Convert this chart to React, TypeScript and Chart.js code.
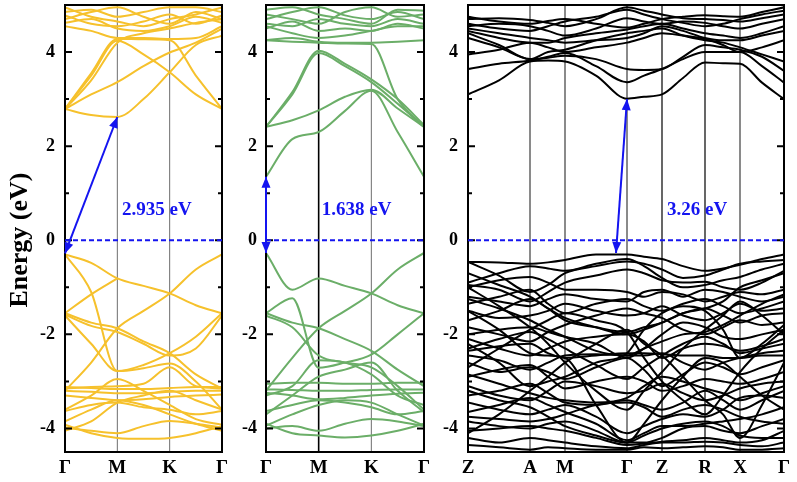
import React, { useEffect, useRef } from 'react';
import { Chart, registerables } from 'chart.js';
Chart.register(...registerables);

const FONT = '"Liberation Serif", "Times New Roman", serif';

// ---------- axes / k-path ----------
const hexKLabels = ['Γ', 'M', 'K', 'Γ'];
const hexKPos = [0, 1, 2, 3];
const hexX = [0, 0.5, 1, 1.5, 2, 2.5, 3];
const tetKLabels = ['Z', 'A', 'M', 'Γ', 'Z', 'R', 'X', 'Γ'];
const tetKPos = [0, 62, 97, 159, 194, 237, 272, 316];
const tetX = [0, 31, 62, 80, 97, 128, 159, 176, 194, 215, 237, 255, 272, 294, 316];
const yMajor = [-4, -2, 0, 2, 4];
const yMinor = [-3, -1, 1, 3];

// ---------- panel 1 (yellow) bands: values at hexX ----------
const p1Cond: (number | null)[][] = [
  [2.79, 2.66, 2.62, 3.0, 3.57, 4.15, 4.35],
  [2.79, 3.1, 3.36, 3.7, 3.99, 4.2, 4.5],
  [2.79, 3.5, 4.24, 3.95, 3.57, 3.1, 2.79],
  [2.79, 3.55, 4.28, 4.27, 4.25, 3.5, 2.79],
  [2.79, 3.4, 4.2, 4.4, 4.5, 4.62, 4.7],
  [4.55, 4.45, 4.3, 4.3, 4.28, 4.3, 4.55],
  [4.62, 4.7, 4.5, 4.45, 4.55, 4.75, 4.62],
  [4.7, 4.85, 4.95, 4.75, 4.6, 4.85, 4.7],
  [4.78, 4.6, 4.55, 4.65, 4.8, 4.6, 4.78],
  [4.85, 4.9, 4.75, 4.85, 4.95, 4.95, 4.85],
  [4.95, 4.75, 4.65, 4.55, 4.7, 4.8, 4.95],
];
const p1Val: (number | null)[][] = [
  [-0.3, -0.48, -0.81, -0.97, -1.13, -1.38, -1.55],
  [-1.55, -1.15, -0.81, null, null, null, null],
  [-0.3, -1.1, -2.78, -2.65, -2.4, -2.05, -1.55],
  [-3.2, -2.6, -1.87, -1.5, -1.13, -0.62, -0.3],
  [-1.55, -1.75, -1.87, -2.15, -2.4, -2.85, -3.15],
  [-1.6, -2.2, -2.78, -2.72, -2.62, -3.0, -3.6],
  [-1.58, -1.82, -1.95, -2.2, -2.45, -2.3, -1.6],
  [-3.15, -3.12, -3.1, -3.05, -2.7, -3.1, -3.15],
  [-3.12, -3.14, -3.16, -3.16, -3.14, -3.12, -3.12],
  [-3.2, -3.22, -3.25, -3.25, -3.22, -3.2, -3.2],
  [-3.3, -3.35, -3.4, -3.38, -3.33, -3.3, -3.28],
  [-3.63, -3.5, -3.45, -3.55, -3.6, -3.7, -3.63],
  [-3.85, -3.6, -3.4, -3.5, -3.7, -3.9, -4.05],
  [-3.92, -4.1, -4.2, -4.22, -4.2, -4.1, -3.95],
  [-3.98, -4.05, -4.1, -3.95, -3.84, -3.9, -3.98],
  [-4.05, -3.85, -3.45, -3.3, -3.2, -3.4, -3.6],
  [-3.6, -3.3, -2.95, -3.2, -3.5, -3.8, -3.92],
];

// ---------- panel 2 (green) bands ----------
const p2Cond: (number | null)[][] = [
  [1.35, 2.15, 2.3, 2.75, 3.18, 2.3, 1.35],
  [2.41, 2.55, 2.76, 3.05, 3.2, 2.8, 2.41],
  [2.41, 3.1, 3.98, 3.7, 3.36, 2.9, 2.41],
  [2.41, 3.15, 4.03, 3.75, 3.42, 3.0, 2.45],
  [4.25, 4.22, 4.2, 4.18, 4.17, 3.0, 2.41],
  [4.25, 4.3, 4.22, 4.2, 4.2, 4.22, 4.25],
  [4.5, 4.65, 4.45, 4.5, 4.45, 4.6, 4.5],
  [4.6, 4.55, 4.7, 4.6, 4.55, 4.7, 4.6],
  [4.7, 4.85, 4.95, 4.78, 4.7, 4.85, 4.7],
  [4.8, 4.7, 4.6, 4.85, 4.95, 4.75, 4.8],
  [4.9, 4.95, 4.8, 4.7, 4.6, 4.9, 4.88],
  [4.55, 4.4, 4.3, 4.35, 4.45, 4.55, 4.55],
];
const p2Val: (number | null)[][] = [
  [-0.27, -1.05, -0.81, -0.97, -1.13, -1.38, -1.55],
  [-1.55, -1.23, -2.71, -2.6, -2.43, -2.0, -1.55],
  [-3.2, -2.5, -1.87, -1.5, -1.13, -0.62, -0.27],
  [-1.55, -1.75, -1.87, -2.1, -2.35, -2.75, -3.1],
  [-1.6, -1.85, -2.45, -2.6, -2.7, -3.1, -3.6],
  [-3.05, -3.03, -3.03, -3.05, -3.05, -3.03, -3.03],
  [-3.17, -3.18, -3.2, -3.2, -3.18, -3.17, -3.17],
  [-3.24, -3.3, -3.38, -3.35, -3.3, -3.26, -3.24],
  [-3.63, -3.5, -3.4, -3.45, -3.55, -3.7, -3.63],
  [-3.94, -3.7, -3.5, -3.4, -3.45, -3.7, -3.94],
  [-3.9, -4.1, -4.15, -4.19, -4.15, -4.05, -3.9],
  [-4.0, -3.95, -4.05, -3.9, -3.8, -3.85, -3.95],
  [-3.7, -3.3, -2.9, -2.75, -2.6, -3.2, -3.65],
  [-3.3, -3.1, -2.55, -2.6, -2.85, -3.3, -3.5],
];

// ---------- panel 3 (black) bands: values at tetX ----------
const p3Cond: (number | null)[][] = [
  [3.1, 3.4, 3.8, 3.82, 3.8, 3.5, 3.01, 3.05, 3.1, 3.45, 3.78, 3.76, 3.75, 3.35, 3.0],
  [3.64, 3.75, 3.82, 3.9, 3.98, 3.7, 3.36, 3.5, 3.64, 3.85, 4.0, 4.0, 4.0, 3.7, 3.35],
  [4.4, 4.15, 3.85, 3.88, 3.92, 3.85, 3.64, 3.62, 3.64, 3.9, 4.15, 4.1, 4.05, 3.9, 3.6],
  [4.3, 4.1, 3.85, 4.0, 4.05, 4.25, 4.4, 4.45, 4.5, 4.35, 4.25, 4.2, 4.1, 3.95, 3.8],
  [4.45, 4.3, 4.2, 4.2, 4.3, 4.4, 4.48, 4.55, 4.6, 4.5, 4.4, 4.35, 4.3, 4.4, 4.55],
  [4.55, 4.6, 4.55, 4.45, 4.35, 4.5, 4.72, 4.65, 4.6, 4.65, 4.62, 4.55, 4.5, 4.6, 4.7],
  [4.6, 4.5, 4.45, 4.55, 4.65, 4.75, 4.9, 4.8, 4.7, 4.62, 4.55, 4.6, 4.7, 4.8, 4.88],
  [4.7, 4.72, 4.68, 4.62, 4.55, 4.7, 4.95, 4.88, 4.8, 4.72, 4.7, 4.68, 4.65, 4.72, 4.8],
  [4.75, 4.65, 4.6, 4.66, 4.7, 4.6, 4.52, 4.6, 4.7, 4.75, 4.78, 4.76, 4.75, 4.85, 4.95],
  [4.5, 4.4, 4.3, 4.25, 4.2, 4.25, 4.3, 4.4, 4.55, 4.45, 4.3, 4.25, 4.25, 4.35, 4.45],
  [3.95, 4.05, 4.2, 4.1, 4.0, 4.1, 4.2, 4.3, 4.4, 4.35, 4.28, 4.15, 4.0, 4.1, 4.25],
];
const p3Val: (number | null)[][] = [
  [-0.46, -0.47, -0.5, -0.47, -0.42, -0.3, -0.3, -0.35, -0.4, -0.55, -0.65, -0.6, -0.52, -0.4, -0.3],
  [-0.46, -0.75, -1.1, -0.95, -0.7, -0.55, -0.45, -0.5, -0.62, -0.8, -0.75, -0.62, -0.5, -0.45, -0.42],
  [-0.9, -0.7, -0.55, -0.6, -0.65, -0.5, -0.4, -0.55, -0.8, -1.0, -0.95, -0.85, -0.78, -0.62, -0.5],
  [-0.95, -1.05, -1.3, -1.1, -0.9, -0.75, -0.62, -0.7, -0.85, -0.9, -0.88, -1.0, -1.05, -0.9, -0.65],
  [-1.0, -0.85, -0.78, -0.9, -1.05, -1.05, -1.1, -1.2, -1.1, -1.15, -1.3, -1.2, -1.1, -1.15, -1.05],
  [-1.2, -1.3, -1.4, -1.25, -1.15, -1.25, -1.3, -1.1, -1.05, -1.2, -1.05, -1.1, -1.2, -1.3, -1.2],
  [-1.35, -1.2, -1.05, -1.35, -1.55, -1.35, -1.25, -1.4, -1.5, -1.35, -1.25, -1.4, -1.55, -1.45, -1.3],
  [-1.5, -1.65, -1.6, -1.5, -1.35, -1.5, -1.6, -1.55, -1.4, -1.6, -1.7, -1.55, -1.35, -1.5, -1.45],
  [-1.7, -1.5, -1.25, -1.45, -1.65, -1.85, -2.0, -1.9, -1.75, -1.55, -1.45, -1.6, -1.75, -1.6, -1.55],
  [-1.85, -2.0, -2.15, -1.95, -1.8, -1.6, -1.45, -1.55, -1.65, -1.9, -2.0, -1.85, -1.7, -1.8, -1.75],
  [-2.0, -1.9, -1.85, -1.95, -2.05, -2.2, -2.5, -2.3, -2.0, -1.75, -1.85, -2.05, -2.1, -2.0, -1.9],
  [-2.1, -2.3, -2.45, -2.3, -2.15, -2.05, -2.0, -2.15, -2.5, -2.3, -2.2, -2.25, -2.35, -2.25, -2.1],
  [-2.35, -2.25, -2.2, -2.4, -2.5, -2.45, -2.4, -2.4, -2.42, -2.45, -2.45, -2.5, -2.5, -2.45, -2.45],
  [-2.45, -2.55, -2.75, -2.6, -2.45, -2.42, -2.45, -2.45, -2.4, -2.6, -2.75, -2.6, -2.5, -2.4, -2.35],
  [-2.6, -2.8, -2.7, -2.8, -2.95, -2.7, -2.5, -2.75, -3.1, -2.85, -2.6, -2.7, -2.85, -2.7, -2.55],
  [-2.9, -2.75, -2.65, -2.9, -3.15, -3.0, -2.9, -3.0, -3.2, -3.1, -2.95, -3.0, -3.05, -2.95, -2.8],
  [-3.1, -3.3, -3.4, -3.2, -3.0, -3.1, -3.25, -3.2, -3.05, -3.25, -3.4, -3.3, -3.15, -3.05, -3.0],
  [-3.3, -3.2, -3.05, -3.25, -3.45, -3.5, -3.4, -3.5, -3.6, -3.45, -3.2, -3.4, -3.6, -3.4, -3.2],
  [-3.45, -3.6, -3.7, -3.6, -3.5, -3.75, -4.1, -3.95, -3.8, -3.7, -3.75, -3.6, -3.35, -3.3, -3.35],
  [-3.65, -3.5, -3.35, -3.5, -3.65, -3.9, -4.25, -4.1, -3.95, -3.95, -3.9, -3.85, -3.8, -3.7, -3.55],
  [-3.85, -3.95, -4.0, -3.9, -3.85, -4.05, -4.3, -4.3, -4.2, -4.0, -3.95, -4.05, -4.1, -3.95, -3.8],
  [-4.05, -4.0, -3.95, -4.0, -4.05, -4.2, -4.35, -4.32, -4.28, -4.25, -4.2, -4.25, -4.3, -4.25, -4.05],
  [-4.2, -4.3, -4.2, -4.25, -4.3, -4.38, -4.42, -4.35, -4.3, -4.3, -4.28, -4.3, -4.35, -4.38, -4.3],
  [-4.35, -4.4, -4.45, -4.4, -4.42, -4.45, -4.45, -4.4, -4.42, -4.4, -4.38, -4.4, -4.45, -4.45, -4.42],
  [-2.3, -2.1, -1.95, -2.1, -2.3, -2.65, -2.95, -2.7, -2.45, -2.2, -2.05, -2.2, -2.4, -2.3, -2.2],
  [-0.7, -0.95, -1.2, -1.45, -1.7, -1.85, -1.95, -1.85, -1.75, -1.55, -1.45, -1.3, -1.0, -0.85, -0.7],
  [-1.25, -1.45, -1.7, -1.9, -2.05, -2.35, -2.45, -2.3, -2.15, -2.0, -1.95, -1.8, -1.6, -1.35, -1.15],
  [-2.85, -3.05, -3.25, -3.35, -3.4, -3.45, -3.35, -3.1, -2.9, -3.0, -3.15, -3.25, -3.4, -3.25, -3.1],
  [-3.2, -3.4, -3.55, -3.75, -3.95, -4.15, -4.3, -4.15, -4.0, -3.9, -3.85, -3.95, -4.15, -4.2, -4.2],
  [-3.75, -3.8, -3.85, -3.8, -3.7, -3.5, -3.45, -3.55, -3.75, -3.6, -3.5, -3.6, -3.75, -3.85, -3.9],
  [-1.5, -1.9, -2.4, -2.45, -2.5, -3.5, -4.3, -3.9, -3.4, -2.9, -2.5, -2.6, -2.9, -3.3, -3.6],
  [-2.2, -2.6, -3.1, -3.0, -2.9, -2.6, -2.4, -1.9, -1.55, -1.4, -1.5, -1.9, -2.5, -2.2, -1.8],
  [-4.1, -3.7, -3.2, -2.9, -2.6, -2.2, -1.9, -2.2, -2.45, -2.9, -3.4, -3.7, -4.2, -3.5, -2.6],
  [-1.0, -1.4, -1.85, -2.2, -2.6, -3.2, -3.6, -3.2, -2.8, -2.3, -1.9, -1.6, -1.3, -1.6, -2.0],
  [-2.7, -2.3, -1.9, -1.7, -1.55, -1.7, -1.95, -2.5, -3.0, -3.4, -3.7, -3.3, -2.8, -2.3, -1.9],
];

// ---------- gap annotations (data coords) ----------
const gapLabels = ['2.935 eV', '1.638 eV', '3.26 eV'];
const gapArrows = [
  [0, -0.28, 1, 2.62],
  [0, -0.27, 0, 1.35],
  [148, -0.27, 159, 3.0],
];
const gapLabelPos = [
  [1.09, 0.64],
  [1.06, 0.64],
  [199, 0.64],
];

const BLUE = '#1414F0';
const GRAY = '#8a8a8a';

type PanelCfg = {
  left: number;
  width: number;
  yWidth: number;
  padRight: number;
  tickPad: number;
  xs: number[];
  bands: (number | null)[][];
  color: string;
  kPos: number[];
  kLabels: string[];
  vlines: { c: string; w: number }[];
  idx: number;
  title: boolean;
};

const panels: PanelCfg[] = [
  {
    left: 0, width: 232, yWidth: 65, padRight: 10, tickPad: 10,
    xs: hexX, bands: [...p1Cond, ...p1Val], color: '#F6C12C',
    kPos: hexKPos, kLabels: hexKLabels,
    vlines: [{ c: '#6e6e6e', w: 1 }, { c: '#6e6e6e', w: 1 }], idx: 0, title: true,
  },
  {
    left: 232, width: 200, yWidth: 34, padRight: 8, tickPad: 9,
    xs: hexX, bands: [...p2Cond, ...p2Val], color: '#6BAE68',
    kPos: hexKPos, kLabels: hexKLabels,
    vlines: [{ c: '#000', w: 1.6 }, { c: '#6e6e6e', w: 1 }], idx: 1, title: false,
  },
  {
    left: 432, width: 365, yWidth: 36, padRight: 13, tickPad: 10,
    xs: tetX, bands: [...p3Cond, ...p3Val], color: '#000000',
    kPos: tetKPos, kLabels: tetKLabels,
    vlines: [
      { c: GRAY, w: 2 }, { c: GRAY, w: 2 }, { c: GRAY, w: 2 },
      { c: '#000', w: 1.2 }, { c: '#000', w: 1.2 }, { c: GRAY, w: 2 },
    ],
    idx: 2, title: false,
  },
];

function arrowHead(ctx: CanvasRenderingContext2D, x1: number, y1: number, x2: number, y2: number) {
  const a = Math.atan2(y2 - y1, x2 - x1);
  const L = 11, W = 4.5;
  ctx.beginPath();
  ctx.moveTo(x2, y2);
  ctx.lineTo(x2 - L * Math.cos(a) + W * Math.sin(a), y2 - L * Math.sin(a) - W * Math.cos(a));
  ctx.lineTo(x2 - L * Math.cos(a) - W * Math.sin(a), y2 - L * Math.sin(a) + W * Math.cos(a));
  ctx.closePath();
  ctx.fill();
}

function zeroPad(s: any) {
  s.paddingTop = 0;
  s.paddingBottom = 0;
  s.paddingLeft = 0;
  s.paddingRight = 0;
}

function Panel({ cfg }: { cfg: PanelCfg }) {
  const ref = useRef<HTMLCanvasElement>(null);
  useEffect(() => {
    if (!ref.current) return;
    const decor = {
      id: 'decor' + cfg.idx,
      beforeDatasetsDraw(chart: any) {
        const { ctx, chartArea, scales } = chart;
        const { top, bottom } = chartArea;
        ctx.save();
        cfg.kPos.slice(1, -1).forEach((k, i) => {
          const px = scales.x.getPixelForValue(k);
          ctx.strokeStyle = cfg.vlines[i].c;
          ctx.lineWidth = cfg.vlines[i].w;
          ctx.beginPath();
          ctx.moveTo(px, top);
          ctx.lineTo(px, bottom);
          ctx.stroke();
        });
        ctx.restore();
      },
      afterDatasetsDraw(chart: any) {
        const { ctx, chartArea, scales } = chart;
        const { left, right, top, bottom } = chartArea;
        const X = (v: number) => scales.x.getPixelForValue(v);
        const Y = (v: number) => scales.y.getPixelForValue(v);
        ctx.save();
        // frame
        ctx.strokeStyle = '#000';
        ctx.lineWidth = 2;
        ctx.strokeRect(left, top, right - left, bottom - top);
        // ticks
        ctx.lineWidth = 2;
        ctx.beginPath();
        yMajor.forEach((v) => {
          const py = Y(v);
          ctx.moveTo(left, py); ctx.lineTo(left + 7, py);
          ctx.moveTo(right, py); ctx.lineTo(right - 7, py);
        });
        yMinor.forEach((v) => {
          const py = Y(v);
          ctx.moveTo(left, py); ctx.lineTo(left + 4, py);
          ctx.moveTo(right, py); ctx.lineTo(right - 4, py);
        });
        ctx.stroke();
        // zero line
        ctx.strokeStyle = BLUE;
        ctx.lineWidth = 2;
        ctx.setLineDash([5, 3]);
        ctx.beginPath();
        ctx.moveTo(left, Y(0));
        ctx.lineTo(right, Y(0));
        ctx.stroke();
        ctx.setLineDash([]);
        // arrow
        const [ax1, ay1, ax2, ay2] = gapArrows[cfg.idx];
        const x1 = X(ax1), y1 = Y(ay1), x2 = X(ax2), y2 = Y(ay2);
        ctx.strokeStyle = BLUE;
        ctx.fillStyle = BLUE;
        ctx.lineWidth = 2;
        ctx.beginPath();
        ctx.moveTo(x1, y1);
        ctx.lineTo(x2, y2);
        ctx.stroke();
        arrowHead(ctx, x1, y1, x2, y2);
        arrowHead(ctx, x2, y2, x1, y1);
        // gap label
        ctx.font = `bold 19px ${FONT}`;
        ctx.textAlign = 'left';
        ctx.textBaseline = 'middle';
        ctx.fillText(gapLabels[cfg.idx], X(gapLabelPos[cfg.idx][0]), Y(gapLabelPos[cfg.idx][1]));
        // y title
        if (cfg.title) {
          ctx.translate(20, 240);
          ctx.rotate(-Math.PI / 2);
          ctx.fillStyle = '#000';
          ctx.font = `bold 26px ${FONT}`;
          ctx.textAlign = 'center';
          ctx.textBaseline = 'middle';
          ctx.fillText('Energy (eV)', 0, 0);
        }
        ctx.restore();
      },
    };

    const chart = new Chart(ref.current, {
      type: 'line',
      data: {
        datasets: cfg.bands.map((b) => ({
          data: cfg.xs.map((x, i) => ({ x, y: b[i] })),
          borderColor: cfg.color,
          borderWidth: 2,
          pointRadius: 0,
          fill: false,
          spanGaps: false,
          cubicInterpolationMode: 'monotone' as const,
        })),
      },
      options: {
        animation: false,
        responsive: false,
        devicePixelRatio: 1,
        layout: { padding: { top: 5, right: cfg.padRight, left: 0, bottom: 0 } },
        plugins: { legend: { display: false }, tooltip: { enabled: false } },
        events: [],
        scales: {
          x: {
            type: 'linear',
            min: cfg.kPos[0],
            max: cfg.kPos[cfg.kPos.length - 1],
            grid: { display: false, drawTicks: false },
            border: { display: false },
            afterBuildTicks: (s: any) => { s.ticks = cfg.kPos.map((v) => ({ value: v })); },
            afterFit: (s: any) => { s.height = 30; zeroPad(s); },
            ticks: {
              autoSkip: false,
              maxRotation: 0,
              padding: 5,
              color: '#000',
              font: { family: FONT, size: 19, weight: 'bold' },
              callback: (_v: any, i: number) => cfg.kLabels[i],
            },
          },
          y: {
            type: 'linear',
            min: -4.5,
            max: 5,
            grid: { display: false, drawTicks: false },
            border: { display: false },
            afterBuildTicks: (s: any) => { s.ticks = yMajor.map((v) => ({ value: v })); },
            afterFit: (s: any) => { s.width = cfg.yWidth; zeroPad(s); },
            ticks: {
              padding: cfg.tickPad,
              color: '#000',
              font: { family: FONT, size: 18, weight: 'bold' },
              callback: (v: any) => String(v),
            },
          },
        },
      } as any,
      plugins: [decor],
    });
    return () => chart.destroy();
  }, [cfg]);
  return (
    <canvas
      ref={ref}
      width={cfg.width}
      height={482}
      style={{ position: 'absolute', left: cfg.left, top: 0, width: cfg.width, height: 482 }}
    />
  );
}

export default function App() {
  return (
    <div style={{ position: 'absolute', left: 0, top: 0, width: 797, height: 482, background: '#fff' }}>
      {panels.map((p) => (
        <Panel key={p.idx} cfg={p} />
      ))}
    </div>
  );
}
